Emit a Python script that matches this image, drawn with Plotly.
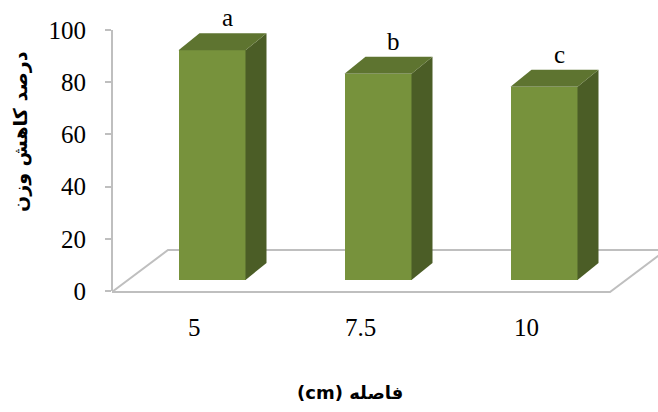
import plotly.graph_objects as go

# ---- data ----
categories = ["5", "7.5", "10"]
values = [88, 79, 74]
letters = ["a", "b", "c"]
y_ticks = [0, 20, 40, 60, 80, 100]
y_title = "درصد کاهش وزن"
x_title = "(cm) فاصله"

# ---- geometry (pixel calibration) ----
W, H = 658, 412
PX_PER_UNIT = 2.61          # vertical pixels per value unit
Y0_PIX = 291                # pixel row of value 0 on the front axis
X0_PIX = 212                # pixel column of first bar centre
X_STEP = 166                # pixels between categories
PLOT_L, PLOT_R, PLOT_T, PLOT_B = 112, 658, 17, 299

xmin = (PLOT_L - X0_PIX) / X_STEP
xmax = (PLOT_R - X0_PIX) / X_STEP
ymax = (Y0_PIX - PLOT_T) / PX_PER_UNIT
ymin = (Y0_PIX - PLOT_B) / PX_PER_UNIT

def dx(p):
    return p / X_STEP

def dy(p):
    return p / PX_PER_UNIT

def px_to_paper_x(p):
    return (p - PLOT_L) / (PLOT_R - PLOT_L)

def px_to_paper_y(p):
    return (PLOT_B - p) / (PLOT_B - PLOT_T)

bar_w = dx(67)
base = dy(11)               # bar front face sits above the front floor edge
depth_x, depth_y = dx(21), dy(17)
floor_dx, floor_dy = dx(56), dy(42)

FRONT = "#77923C"
SIDE = "#4B5D26"
TOP = "#5E7430"
GRID = "#BFBFBF"
SERIF = "Liberation Serif, Times New Roman, serif"

xs = list(range(len(categories)))

fig = go.Figure()
fig.add_trace(go.Bar(
    x=xs, y=values, base=[base] * len(values), width=bar_w,
    marker=dict(color=FRONT, line=dict(width=0)),
    hoverinfo="skip", showlegend=False,
))

shapes = []
# floor
f_front = dy(-1)
fl_x0 = xmin
fl_x1 = (610 - X0_PIX) / X_STEP
shapes.append(dict(type="path", xref="x", yref="y", layer="below",
                   path=f"M {fl_x0},{f_front} L {fl_x0 + floor_dx},{f_front + floor_dy} "
                        f"L {xmax + 0.2},{f_front + floor_dy}",
                   line=dict(color=GRID, width=2)))
shapes.append(dict(type="path", xref="x", yref="y", layer="below",
                   path=f"M {fl_x0},{f_front} L {fl_x1},{f_front} "
                        f"L {fl_x1 + floor_dx},{f_front + floor_dy}",
                   line=dict(color=GRID, width=2)))
# y axis line
shapes.append(dict(type="line", xref="paper", yref="y", x0=0, x1=0, y0=0, y1=100,
                   line=dict(color=GRID, width=2), layer="below"))

# 3D faces of bars
for i, v in zip(xs, values):
    xl, xr = i - bar_w / 2, i + bar_w / 2
    yb, yt = base, base + v
    shapes.append(dict(type="path", xref="x", yref="y", layer="above",
                       path=f"M {xr},{yb} L {xr + depth_x},{yb + depth_y} "
                            f"L {xr + depth_x},{yt + depth_y} L {xr},{yt} Z",
                       fillcolor=SIDE, line=dict(width=0)))
    shapes.append(dict(type="path", xref="x", yref="y", layer="above",
                       path=f"M {xl},{yt} L {xr},{yt} L {xr + depth_x},{yt + depth_y} "
                            f"L {xl + depth_x},{yt + depth_y} Z",
                       fillcolor=TOP, line=dict(width=0)))

annotations = []
for i, v, t in zip(xs, values, letters):
    annotations.append(dict(x=i + depth_x * 0.75, y=base + v + depth_y, xref="x", yref="y",
                            text=t, showarrow=False, xanchor="center", yanchor="bottom", yshift=0,
                            font=dict(family=SERIF, size=25, color="black")))
# category labels
for i, c in zip(xs, categories):
    annotations.append(dict(x=i - dx(18), y=px_to_paper_y(327), xref="x", yref="paper",
                            text=c, showarrow=False, xanchor="center", yanchor="middle",
                            font=dict(family=SERIF, size=25, color="black")))
# axis titles
annotations.append(dict(x=px_to_paper_x(20), y=px_to_paper_y(132),
                        xref="paper", yref="paper", text=f"<b>{y_title}</b>", textangle=-90,
                        xanchor="center", yanchor="middle",
                        showarrow=False, font=dict(family="DejaVu Sans", size=19, color="black")))
annotations.append(dict(x=px_to_paper_x(350), y=px_to_paper_y(392),
                        xref="paper", yref="paper", text=f"<b>{x_title}</b>",
                        xanchor="center", yanchor="middle",
                        showarrow=False, font=dict(family="DejaVu Sans", size=18, color="black")))

fig.update_layout(
    template="none",
    font=dict(family=SERIF, color="black"),
    width=W, height=H,
    margin=dict(l=PLOT_L, r=W - PLOT_R, t=PLOT_T, b=H - PLOT_B, pad=0, autoexpand=False),
    paper_bgcolor="white", plot_bgcolor="white",
    shapes=shapes, annotations=annotations,
    xaxis=dict(range=[xmin, xmax], showgrid=False, zeroline=False, showline=False,
               showticklabels=False, ticks="", automargin=False, fixedrange=True),
    yaxis=dict(range=[ymin, ymax], showgrid=False, zeroline=False, showline=False,
               tickvals=y_ticks, ticks="outside", ticklen=6, tickwidth=2, tickcolor=GRID,
               ticklabelstandoff=14, automargin=False,
               tickfont=dict(family=SERIF, size=25, color="black")),
    bargap=0,
)

fig.write_html("out.html")
